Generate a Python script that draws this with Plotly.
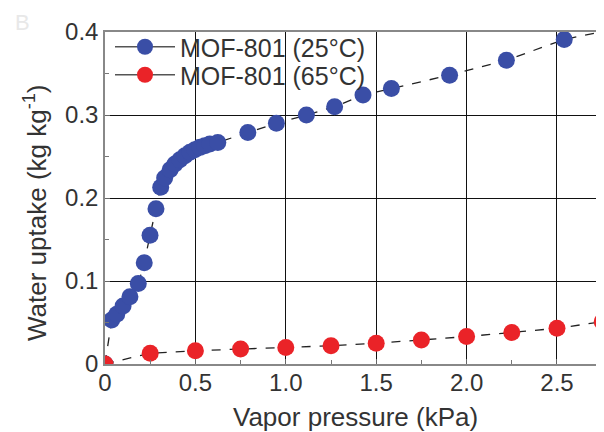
import plotly.graph_objects as go

# 25 °C isotherm
x25 = [0.0, 0.037, 0.065, 0.10, 0.138, 0.184, 0.217, 0.249, 0.282, 0.308, 0.33, 0.36, 0.387,
       0.414, 0.442, 0.47, 0.497, 0.525, 0.552, 0.58, 0.624, 0.79, 0.948, 1.114, 1.27,
       1.427, 1.584, 1.906, 2.22, 2.54, 2.85]
y25 = [0.0, 0.053, 0.060, 0.070, 0.081, 0.097, 0.122, 0.155, 0.187, 0.213, 0.224, 0.234, 0.241,
       0.246, 0.251, 0.255, 0.258, 0.261, 0.263, 0.265, 0.267, 0.279, 0.290, 0.300, 0.310,
       0.324, 0.332, 0.348, 0.366, 0.391, 0.405]

# 65 °C isotherm
x65 = [0.0, 0.25, 0.5, 0.75, 1.0, 1.25, 1.5, 1.75, 2.0, 2.25, 2.5, 2.75]
y65 = [0.0, 0.013, 0.016, 0.018, 0.020, 0.022, 0.025, 0.029, 0.033, 0.038, 0.043, 0.051]

names = ["MOF-801 (25°C)", "MOF-801 (65°C)"]
colors = ["#3a4ea6", "#ea2328"]

xticks = [0, 0.5, 1.0, 1.5, 2.0, 2.5]
xticktext = ["0", "0.5", "1.0", "1.5", "2.0", "2.5"]
yticks = [0, 0.1, 0.2, 0.3, 0.4]
yticktext = ["0", "0.1", "0.2", "0.3", "0.4"]

# page body adds an 8px offset; figure sized to fit the window
W, H = 596, 424
L, R, T, B = 97, 0, 24, 68
PW, PH = W - L - R, H - T - B

def px(xf):  # figure px -> paper x
    return (xf - L) / PW

def py(yf):  # figure px -> paper y
    return (H - B - yf) / PH

fig = go.Figure()
for xs, ys, c in [(x25, y25, colors[0]), (x65, y65, colors[1])]:
    fig.add_trace(go.Scatter(x=xs, y=ys, mode="lines+markers", showlegend=False,
                             line=dict(color="#222222", width=1.3, dash="dash"),
                             marker=dict(color=c, size=17)))
for i, (n, c) in enumerate(zip(names, colors)):
    fig.add_trace(go.Scatter(x=[None], y=[None], mode="lines+markers", name=n,
                             legend="legend" if i == 0 else "legend2",
                             line=dict(color="#555555", width=1.5),
                             marker=dict(color=c, size=17)))

leg = dict(xanchor="left", yanchor="middle", bgcolor="rgba(0,0,0,0)",
           font=dict(size=25, color="#333333"), itemwidth=60)
fig.update_layout(
    width=W, height=H,
    margin=dict(l=L, r=R, t=T, b=B),
    paper_bgcolor="white", plot_bgcolor="white",
    font=dict(family="Liberation Sans, Arial, sans-serif", color="#333333", size=20),
    legend=dict(x=px(L + 5), y=py(39), **leg),
    legend2=dict(x=px(L + 5), y=py(67), **leg),
    annotations=[
        dict(text="B", x=px(14), y=py(14), xref="paper", yref="paper", showarrow=False,
             font=dict(size=22, color="#e8e8e8"), xanchor="center", yanchor="middle"),
        dict(text="Water uptake (kg kg<sup>-1</sup>)", x=px(27), y=py(205), xref="paper",
             yref="paper", showarrow=False, textangle=-90, font=dict(size=26, color="#333333"),
             xanchor="center", yanchor="middle"),
        dict(text="Vapor pressure (kPa)", x=px(347), y=py(409), xref="paper",
             yref="paper", showarrow=False, font=dict(size=26, color="#333333"),
             xanchor="center", yanchor="middle"),
    ]
)

fig.update_xaxes(range=[0, 2.76], tickvals=xticks, ticktext=xticktext, automargin=False,
                 showgrid=True, gridcolor="#111111", gridwidth=1.2,
                 showline=True, linecolor="#888888", linewidth=1.5, mirror=True,
                 ticks="inside", ticklen=5, tickcolor="#666666", ticklabelstandoff=-4,
                 minor=dict(ticks="inside", dtick=0.25, tick0=0, ticklen=4, tickcolor="#777777"),
                 zeroline=False, tickfont=dict(size=24))
fig.update_yaxes(range=[0, 0.4], tickvals=yticks, ticktext=yticktext, automargin=False,
                 showgrid=True, gridcolor="#111111", gridwidth=1.2,
                 showline=True, linecolor="#888888", linewidth=1.5, mirror=True,
                 ticks="inside", ticklen=5, tickcolor="#666666",
                 minor=dict(ticks="inside", dtick=0.05, tick0=0, ticklen=4, tickcolor="#777777"),
                 zeroline=False, tickfont=dict(size=24))

fig.write_html("out.html")
